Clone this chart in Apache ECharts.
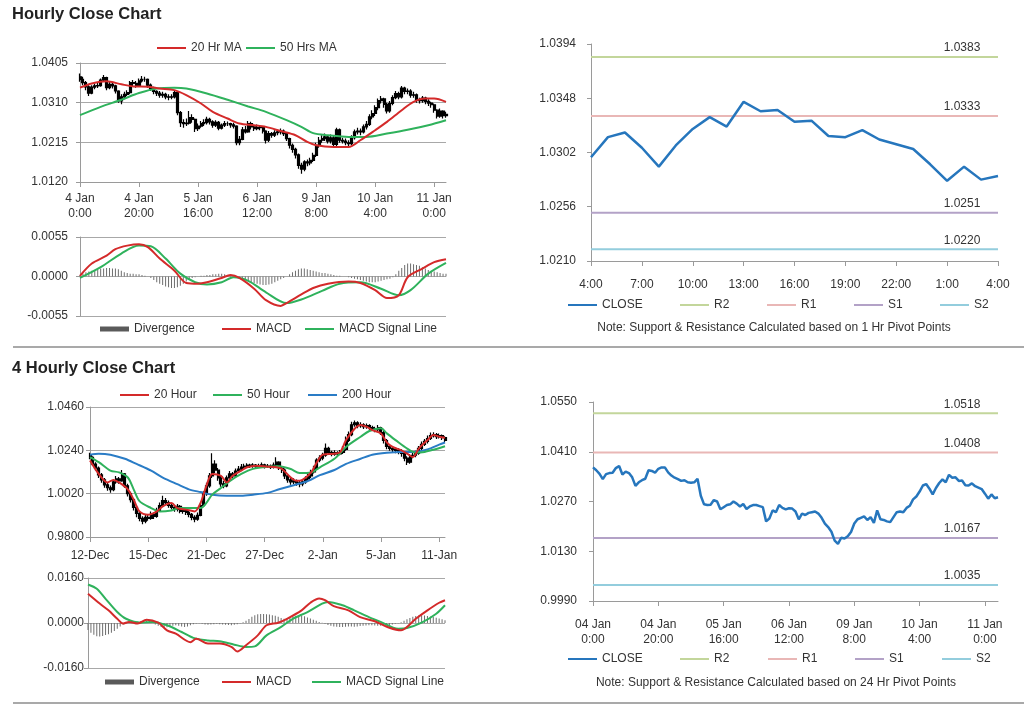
<!DOCTYPE html>
<html>
<head>
<meta charset="utf-8">
<script src="https://cdn.jsdelivr.net/npm/echarts@6/dist/echarts.min.js"></script>
<style>html,body{margin:0;padding:0;background:#fff;}#c{width:1024px;height:706px;}</style>
</head>
<body>
<div id="c"></div>
<script>
// ---------- DATA ----------
// Hourly closes, 4 Jan 0:00 .. 11 Jan 4:00 (shared by hourly candles, 1h pivot and 24h pivot charts)
const hourlyCloses = [
 1.0366,1.0358,1.0348,1.0333,1.0347,1.0350,1.0351,1.0364,1.0370,1.0346,
 1.0354,1.0350,1.0338,1.0314,1.0324,1.0330,1.0334,1.0358,1.0356,1.0351,
 1.0362,1.0366,1.0366,1.0352,1.0343,1.0337,1.0333,1.0328,1.0330,1.0324,
 1.0323,1.0324,1.0334,1.0286,1.0262,1.0260,1.0261,1.0274,1.0270,1.0248,
 1.0254,1.0260,1.0262,1.0270,1.0264,1.0256,1.0263,1.0249,1.0256,1.0260,
 1.0260,1.0257,1.0254,1.0214,1.0222,1.0245,1.0240,1.0260,1.0252,1.0248,
 1.0251,1.0250,1.0242,1.0220,1.0236,1.0232,1.0238,1.0240,1.0242,1.0236,
 1.0224,1.0208,1.0198,1.0185,1.0160,1.0151,1.0168,1.0166,1.0172,1.0184,
 1.0208,1.0220,1.0224,1.0228,1.0218,1.0226,1.0210,1.0245,1.0220,1.0218,
 1.0214,1.0212,1.0226,1.0240,1.0242,1.0240,1.0252,1.0258,1.0276,1.0284,
 1.0298,1.0315,1.0319,1.0306,1.0290,1.0308,1.0322,1.0332,1.0324,1.0345,
 1.0337,1.0338,1.0328,1.0329,1.0316,1.0315,1.0321,1.0313,1.0309,1.0305,
 1.0292,1.0278,1.0290,1.0279,1.0282];
const hourlyFirstOpen = 1.0372;
const hourlyHighs = [
 1.0380,1.0372,1.0362,1.0352,1.0352,1.0356,1.0358,1.0368,1.0376,1.0372,
 1.0360,1.0358,1.0353,1.0340,1.0330,1.0336,1.0340,1.0362,1.0364,1.0362,
 1.0368,1.0374,1.0372,1.0368,1.0356,1.0348,1.0340,1.0338,1.0336,1.0334,
 1.0330,1.0330,1.0340,1.0336,1.0290,1.0270,1.0272,1.0290,1.0282,1.0272,
 1.0260,1.0266,1.0270,1.0276,1.0274,1.0268,1.0268,1.0266,1.0260,1.0266,
 1.0265,1.0262,1.0262,1.0256,1.0230,1.0252,1.0254,1.0266,1.0264,1.0256,
 1.0258,1.0256,1.0254,1.0244,1.0242,1.0240,1.0244,1.0246,1.0248,1.0246,
 1.0240,1.0226,1.0212,1.0202,1.0188,1.0166,1.0172,1.0174,1.0178,1.0190,
 1.0214,1.0228,1.0232,1.0236,1.0232,1.0234,1.0230,1.0250,1.0248,1.0226,
 1.0224,1.0220,1.0232,1.0246,1.0250,1.0248,1.0258,1.0266,1.0282,1.0292,
 1.0304,1.0320,1.0326,1.0322,1.0310,1.0314,1.0328,1.0338,1.0336,1.0350,
 1.0348,1.0344,1.0342,1.0336,1.0332,1.0322,1.0326,1.0324,1.0318,1.0312,
 1.0308,1.0294,1.0296,1.0292,1.0288];
const hourlyLows = [
 1.0360,1.0352,1.0340,1.0326,1.0330,1.0342,1.0345,1.0348,1.0360,1.0340,
 1.0342,1.0344,1.0332,1.0310,1.0306,1.0318,1.0326,1.0330,1.0350,1.0346,
 1.0348,1.0358,1.0360,1.0346,1.0338,1.0330,1.0326,1.0322,1.0322,1.0318,
 1.0316,1.0318,1.0320,1.0280,1.0252,1.0250,1.0254,1.0258,1.0262,1.0240,
 1.0242,1.0250,1.0254,1.0258,1.0258,1.0250,1.0252,1.0244,1.0246,1.0252,
 1.0254,1.0250,1.0248,1.0208,1.0208,1.0220,1.0236,1.0238,1.0246,1.0242,
 1.0244,1.0244,1.0236,1.0212,1.0216,1.0226,1.0228,1.0232,1.0234,1.0230,
 1.0218,1.0200,1.0190,1.0176,1.0152,1.0140,1.0146,1.0158,1.0160,1.0168,
 1.0180,1.0202,1.0214,1.0218,1.0212,1.0212,1.0204,1.0206,1.0214,1.0212,
 1.0208,1.0206,1.0208,1.0222,1.0234,1.0232,1.0236,1.0246,1.0254,1.0270,
 1.0278,1.0292,1.0308,1.0298,1.0284,1.0286,1.0304,1.0318,1.0318,1.0320,
 1.0330,1.0330,1.0322,1.0322,1.0310,1.0308,1.0310,1.0306,1.0302,1.0298,
 1.0286,1.0272,1.0274,1.0272,1.0274];
// [bar index, value] samples of moving averages
const hourlyMA20 = [[0,1.0346],[4,1.0356],[9,1.0361],[14,1.0354],[18,1.0349],[23,1.0348],[27,1.0344],[32,1.0340],[36,1.0328],[41,1.0308],[45,1.0288],[50,1.0272],[54,1.0260],[59,1.0256],[63,1.0252],[68,1.0242],[73,1.0232],[77,1.0216],[80,1.0208],[86,1.0204],[91,1.0204],[95,1.0220],[100,1.0244],[104,1.0264],[109,1.0292],[113,1.0312],[117,1.0320],[120,1.0320],[124,1.0312]];
const hourlyMA50 = [[0,1.0280],[7,1.0300],[14,1.0317],[20,1.0333],[26,1.0344],[32,1.0346],[36,1.0344],[43,1.0332],[50,1.0317],[57,1.0301],[63,1.0288],[70,1.0268],[75,1.0252],[79,1.0237],[84,1.0232],[91,1.0228],[97,1.0228],[104,1.0236],[111,1.0245],[118,1.0256],[124,1.0268]];
const hourlyMACD = [[0,0.0001],[4,0.0018],[9,0.0029],[12,0.0038],[16,0.0043],[20,0.0045],[23,0.0041],[27,0.0025],[32,0.0008],[36,-0.0009],[40,-0.0010],[43,-0.0008],[48,-0.0002],[51,0.0002],[54,-0.0002],[59,-0.0017],[63,-0.0033],[68,-0.0041],[70,-0.0037],[75,-0.0025],[79,-0.0016],[84,-0.0010],[91,-0.0007],[95,-0.0009],[100,-0.0019],[104,-0.0030],[108,-0.0026],[111,-0.0001],[116,0.0011],[120,0.0020],[124,0.0024]];
const hourlySignal = [[0,-0.0002],[7,0.0013],[14,0.0032],[20,0.0043],[24,0.0042],[29,0.0025],[34,0.0004],[39,-0.0008],[43,-0.0011],[48,-0.0008],[52,-0.0001],[57,-0.0006],[63,-0.0022],[70,-0.0037],[75,-0.0032],[82,-0.0020],[88,-0.0010],[95,-0.0008],[102,-0.0017],[108,-0.0026],[112,-0.0019],[118,0.0004],[124,0.0019]];
const hourlyDivergence = [
 0.0002,0.0004,0.0006,0.0007,0.0008,0.0009,0.0010,0.0011,0.0011,0.0012,0.0012,0.0011,0.0011,0.0010,0.0008,
 0.0006,0.0005,0.0004,0.0004,0.0003,0.0003,0.0002,0.0001,0.0000,-0.0002,
 -0.0005,-0.0008,-0.0010,-0.0012,-0.0014,-0.0015,-0.0016,-0.0016,-0.0015,-0.0013,-0.0010,-0.0007,
 -0.0004,-0.0002,-0.0001,0.0000,0.0001,0.0001,0.0002,0.0002,0.0003,0.0003,0.0004,0.0004,0.0003,0.0002,
 0.0001,0.0000,-0.0001,-0.0002,-0.0003,-0.0005,-0.0007,
 -0.0008,-0.0009,-0.0010,-0.0011,-0.0012,-0.0012,-0.0011,-0.0010,-0.0008,-0.0006,-0.0004,-0.0002,0.0000,
 0.0003,0.0006,0.0008,0.0010,0.0011,0.0011,0.0010,0.0009,0.0008,0.0007,0.0006,
 0.0005,0.0005,0.0004,0.0003,0.0002,0.0001,0.0001,0.0000,0.0000,-0.0001,
 -0.0002,-0.0003,-0.0004,-0.0005,-0.0006,-0.0007,-0.0008,-0.0008,-0.0008,-0.0007,-0.0006,-0.0005,-0.0004,-0.0003,-0.0001,
 0.0003,0.0008,0.0012,0.0016,0.0018,0.0018,0.0017,0.0016,0.0015,0.0013,0.0011,0.0009,0.0008,0.0007,0.0006,0.0005,0.0004,0.0004];

// 4-hourly bars, 12 Dec .. 11 Jan
const fourHourFirstOpen = 1.0215;
const fourHourCloses = [
 1.0205,1.0170,1.0150,1.0115,1.0090,1.0065,1.0050,1.0040,1.0080,1.0095,
 1.0085,1.0120,1.0060,1.0020,0.9990,0.9950,0.9920,0.9895,0.9880,0.9900,
 0.9895,0.9915,0.9905,0.9935,0.9960,0.9985,0.9975,0.9960,0.9950,0.9940,
 0.9955,0.9930,0.9935,0.9925,0.9915,0.9900,0.9890,0.9910,0.9960,1.0020,
 1.0060,1.0110,1.0170,1.0140,1.0100,1.0070,1.0060,1.0100,1.0120,1.0110,
 1.0135,1.0145,1.0155,1.0160,1.0165,1.0160,1.0165,1.0158,1.0162,1.0166,
 1.0158,1.0160,1.0155,1.0165,1.0180,1.0150,1.0140,1.0110,1.0090,1.0080,
 1.0085,1.0075,1.0070,1.0080,1.0095,1.0110,1.0130,1.0150,1.0190,1.0200,
 1.0215,1.0250,1.0230,1.0220,1.0228,1.0222,1.0230,1.0245,1.0290,1.0320,
 1.0370,1.0380,1.0365,1.0370,1.0360,1.0365,1.0355,1.0350,1.0345,1.0355,
 1.0330,1.0290,1.0260,1.0250,1.0245,1.0240,1.0235,1.0225,1.0200,1.0180,
 1.0210,1.0215,1.0225,1.0250,1.0270,1.0285,1.0300,1.0315,1.0320,1.0310,
 1.0315,1.0305,1.0290];
const fourHourHighs = [
 1.0228,1.0210,1.0180,1.0158,1.0125,1.0100,1.0075,1.0062,1.0092,1.0110,
 1.0105,1.0140,1.0125,1.0070,1.0030,0.9998,0.9960,0.9930,0.9905,0.9915,
 0.9912,0.9930,0.9925,0.9948,0.9975,1.0010,0.9998,0.9985,0.9968,0.9960,
 0.9968,0.9962,0.9948,0.9945,0.9935,0.9922,0.9910,0.9925,0.9972,1.0032,
 1.0075,1.0125,1.0225,1.0190,1.0150,1.0110,1.0085,1.0112,1.0135,1.0130,
 1.0148,1.0160,1.0170,1.0172,1.0175,1.0172,1.0175,1.0170,1.0172,1.0178,
 1.0172,1.0170,1.0168,1.0178,1.0205,1.0185,1.0158,1.0148,1.0120,1.0100,
 1.0098,1.0092,1.0088,1.0092,1.0108,1.0122,1.0142,1.0162,1.0200,1.0215,
 1.0228,1.0275,1.0258,1.0238,1.0240,1.0235,1.0242,1.0262,1.0310,1.0335,
 1.0385,1.0392,1.0388,1.0382,1.0378,1.0376,1.0372,1.0365,1.0360,1.0368,
 1.0360,1.0338,1.0298,1.0268,1.0262,1.0255,1.0250,1.0245,1.0232,1.0210,
 1.0222,1.0228,1.0238,1.0262,1.0285,1.0298,1.0315,1.0330,1.0332,1.0328,
 1.0326,1.0320,1.0312];
const fourHourLows = [
 1.0195,1.0160,1.0138,1.0100,1.0075,1.0050,1.0035,1.0025,1.0032,1.0070,
 1.0070,1.0080,1.0050,1.0005,0.9975,0.9935,0.9900,0.9880,0.9865,0.9870,
 0.9882,0.9888,0.9892,0.9898,0.9928,0.9952,0.9962,0.9948,0.9940,0.9928,
 0.9930,0.9920,0.9918,0.9912,0.9900,0.9885,0.9875,0.9882,0.9905,0.9952,
 1.0010,1.0050,1.0100,1.0125,1.0085,1.0055,1.0048,1.0052,1.0092,1.0098,
 1.0102,1.0128,1.0138,1.0148,1.0152,1.0150,1.0152,1.0148,1.0150,1.0154,
 1.0148,1.0150,1.0145,1.0148,1.0155,1.0140,1.0125,1.0095,1.0075,1.0065,
 1.0068,1.0060,1.0052,1.0058,1.0070,1.0085,1.0100,1.0122,1.0142,1.0180,
 1.0190,1.0208,1.0220,1.0210,1.0212,1.0212,1.0215,1.0222,1.0238,1.0282,
 1.0312,1.0360,1.0352,1.0355,1.0348,1.0350,1.0342,1.0338,1.0332,1.0335,
 1.0318,1.0275,1.0245,1.0238,1.0232,1.0225,1.0220,1.0208,1.0185,1.0165,
 1.0172,1.0200,1.0205,1.0218,1.0240,1.0262,1.0275,1.0292,1.0305,1.0298,
 1.0300,1.0292,1.0280];
const fourHourMA20 = [[0,1.0188],[3,1.0120],[6,1.0077],[8,1.0090],[10,1.0077],[13,1.0042],[15,0.9990],[17,0.9930],[20,0.9913],[23,0.9930],[25,0.9956],[28,0.9973],[30,0.9947],[33,0.9939],[36,0.9930],[38,0.9973],[40,1.0060],[42,1.0120],[45,1.0111],[47,1.0077],[49,1.0111],[52,1.0137],[54,1.0154],[57,1.0162],[61,1.0157],[64,1.0154],[66,1.0145],[69,1.0102],[71,1.0085],[73,1.0090],[76,1.0128],[78,1.0180],[80,1.0218],[84,1.0223],[86,1.0231],[88,1.0292],[91,1.0351],[93,1.0369],[95,1.0360],[97,1.0343],[100,1.0326],[102,1.0280],[104,1.0257],[107,1.0240],[109,1.0223],[111,1.0206],[113,1.0249],[116,1.0292],[118,1.0318],[120,1.0309],[122,1.0304]];
const fourHourMA50 = [[0,1.0206],[3,1.0180],[7,1.0137],[10,1.0128],[13,1.0102],[15,1.0042],[17,0.9982],[21,0.9947],[24,0.9930],[28,0.9935],[31,0.9947],[34,0.9947],[38,0.9947],[40,0.9973],[42,1.0015],[45,1.0049],[48,1.0084],[52,1.0120],[56,1.0146],[61,1.0157],[65,1.0159],[69,1.0145],[72,1.0125],[76,1.0128],[79,1.0154],[84,1.0197],[88,1.0257],[93,1.0309],[96,1.0338],[100,1.0352],[102,1.0326],[105,1.0292],[109,1.0249],[112,1.0228],[115,1.0232],[118,1.0243],[122,1.0261]];
const fourHourMA200 = [[0,1.0218],[3,1.0223],[7,1.0218],[12,1.0197],[16,1.0171],[21,1.0137],[25,1.0102],[30,1.0068],[34,1.0042],[38,1.0028],[42,1.0015],[47,1.0010],[52,1.0010],[56,1.0015],[61,1.0024],[65,1.0042],[70,1.0063],[75,1.0085],[79,1.0114],[84,1.0140],[88,1.0171],[93,1.0197],[97,1.0218],[102,1.0228],[107,1.0232],[111,1.0232],[116,1.0245],[120,1.0269],[122,1.0280]];
const fourHourMACD = [[0,0.0104],[4,0.0069],[7,0.0045],[10,0.0015],[12,-0.0002],[14,0.0004],[17,-0.0002],[20,0.0012],[24,0.0001],[27,-0.0026],[30,-0.0038],[35,-0.0068],[37,-0.0056],[41,-0.0073],[45,-0.0073],[49,-0.0085],[51,-0.0101],[54,-0.0079],[58,-0.0044],[61,-0.0008],[65,0.0001],[68,0.0015],[73,0.0045],[76,0.0072],[79,0.0087],[81,0.0081],[84,0.0060],[89,0.0045],[93,0.0021],[98,0.0006],[103,-0.0017],[107,-0.0026],[112,0.0015],[116,0.0045],[120,0.0072],[122,0.0081]];
const fourHourSignal = [[0,0.0137],[3,0.0122],[6,0.0086],[10,0.0039],[13,0.0015],[18,0.0001],[22,0.0004],[27,-0.0008],[32,-0.0032],[36,-0.0053],[41,-0.0062],[45,-0.0065],[50,-0.0077],[54,-0.0085],[57,-0.0083],[61,-0.0044],[66,-0.0014],[70,0.0015],[75,0.0039],[80,0.0069],[82,0.0075],[87,0.0063],[91,0.0045],[96,0.0021],[100,0.0004],[106,-0.0020],[109,-0.0018],[114,0.0001],[119,0.0033],[122,0.0063]];
const fourHourDivergence = [
 -0.0025,-0.0035,-0.0042,-0.0047,-0.0048,-0.0046,-0.0043,-0.0040,-0.0035,-0.0028,-0.0020,-0.0012,
 -0.0006,-0.0003,-0.0001,0.0002,0.0004,0.0005,0.0006,0.0008,0.0009,0.0008,0.0004,
 -0.0005,-0.0010,-0.0014,-0.0016,-0.0015,-0.0013,-0.0010,-0.0008,-0.0010,-0.0012,-0.0014,-0.0012,-0.0008,
 -0.0004,-0.0002,-0.0001,-0.0003,-0.0005,-0.0006,-0.0005,-0.0004,-0.0003,-0.0004,-0.0005,-0.0006,-0.0007,-0.0008,-0.0006,-0.0004,-0.0001,0.0003,0.0008,0.0014,
 0.0022,0.0028,0.0031,0.0032,0.0032,0.0031,0.0030,0.0028,0.0026,0.0022,0.0018,
 0.0015,0.0016,0.0020,0.0024,0.0026,0.0027,0.0026,0.0024,0.0020,0.0016,0.0012,0.0008,0.0004,0.0001,-0.0003,
 -0.0007,-0.0010,-0.0012,-0.0013,-0.0014,-0.0014,-0.0013,-0.0012,-0.0012,-0.0013,-0.0012,-0.0011,-0.0010,-0.0009,-0.0008,-0.0008,-0.0009,-0.0010,
 -0.0010,-0.0009,-0.0008,-0.0007,-0.0005,-0.0003,-0.0001,0.0003,
 0.0008,0.0013,0.0018,0.0022,0.0025,0.0027,0.0028,0.0027,0.0025,0.0023,0.0021,0.0019,0.0016,0.0013,0.0010];

// Tick labels
const hourlyTickLabels = ['4 Jan\n0:00','4 Jan\n20:00','5 Jan\n16:00','6 Jan\n12:00','9 Jan\n8:00','10 Jan\n4:00','11 Jan\n0:00'];
const pivot24TickLabels = ['04 Jan\n0:00','04 Jan\n20:00','05 Jan\n16:00','06 Jan\n12:00','09 Jan\n8:00','10 Jan\n4:00','11 Jan\n0:00'];
const fourHourTickLabels = ['12-Dec','15-Dec','21-Dec','27-Dec','2-Jan','5-Jan','11-Jan'];
const pivot1TickLabels = ['4:00','7:00','10:00','13:00','16:00','19:00','22:00','1:00','4:00'];
const pivot1Start = 100; // last 25 hourly closes

// Pivot levels
const levelNames = ['R2','R1','S1','S2'];
const levels1Hr = [1.0383, 1.0333, 1.0251, 1.0220];
const levels24Hr = [1.0518, 1.0408, 1.0167, 1.0035];

// ---------- BUILD ----------
const FONT = "'Liberation Sans', Arial, Helvetica, sans-serif";
const TXT = '#333';
const RED = '#d42a2a', GREEN = '#2fb25c', BLUE = '#2a7cc6', CLOSEC = '#2676bd';
const levelColors = ['#c3d69b', '#e9b7b6', '#b3a2c7', '#93cddd'];

function cats(n, labels, step) {
  const out = [];
  for (let i = 0; i < n; i++) out.push(i % step === 0 && labels[i / step] !== undefined ? labels[i / step] : '');
  return out;
}
function ohlc(first, closes, lows, highs) {
  return closes.map((c, i) => [i === 0 ? first : closes[i - 1], c, lows[i], highs[i]]);
}
const fmt = v => (Math.abs(v) < 1e-9 ? 0 : v).toFixed(4);

function xCat(gi, data, step, show, margin) {
  return {
    type: 'category', gridIndex: gi, data, boundaryGap: false, show,
    axisLine: { show: true, lineStyle: { color: '#9a9a9a' } },
    axisTick: { show: true, interval: step - 1, length: 5, lineStyle: { color: '#9a9a9a' } },
    axisLabel: { interval: step - 1, color: TXT, fontSize: 12, fontFamily: FONT, lineHeight: 15, margin },
    splitLine: { show: false }
  };
}
function yVal(gi, min, max, interval, split, margin) {
  return {
    type: 'value', gridIndex: gi, min, max, interval, scale: true,
    axisLine: { show: true, lineStyle: { color: '#9a9a9a' } },
    axisTick: { show: true, length: 4, lineStyle: { color: '#9a9a9a' } },
    axisLabel: { formatter: fmt, color: TXT, fontSize: 12, fontFamily: FONT, margin },
    splitLine: { show: split, lineStyle: { color: '#a8a8a8', width: 1 } }
  };
}
function lineS(name, gi, data, color, width) {
  return { type: 'line', name, xAxisIndex: gi, yAxisIndex: gi, data, symbol: 'none', smooth: 0.3,
    lineStyle: { color, width: width || 2 }, itemStyle: { color }, silent: true, z: 3 };
}
function levelS(name, gi, value, color, n) {
  return { type: 'line', name, xAxisIndex: gi, yAxisIndex: gi, symbol: 'circle', symbolSize: 0, showSymbol: true,
    lineStyle: { color, width: 2 }, itemStyle: { color }, silent: true, z: 2,
    data: [[0, value], { value: [n - 1, value],
      label: { show: true, position: 'top', distance: 3, offset: [-36, 0], formatter: fmt(value),
        color: TXT, fontSize: 12, fontFamily: FONT } }] };
}

const nH = hourlyCloses.length, nF = fourHourCloses.length;
const pivot1Closes = hourlyCloses.slice(pivot1Start);
const nP = pivot1Closes.length;

const candleStyle = { color: '#000', color0: '#000', borderColor: '#000', borderColor0: '#000', borderWidth: 1.2 };

const series = [
  // chart 0: hourly candles
  { type: 'candlestick', name: 'Hourly', xAxisIndex: 0, yAxisIndex: 0, barWidth: 2.5, itemStyle: candleStyle, silent: true,
    data: ohlc(hourlyFirstOpen, hourlyCloses, hourlyLows, hourlyHighs) },
  lineS('50 Hrs MA', 0, hourlyMA50, GREEN),
  lineS('20 Hr MA', 0, hourlyMA20, RED),
  // chart 1: hourly MACD
  { type: 'bar', name: 'Divergence', xAxisIndex: 1, yAxisIndex: 1, barWidth: 1, data: hourlyDivergence,
    itemStyle: { color: '#6e6e6e' }, silent: true },
  lineS('MACD Signal Line', 1, hourlySignal, GREEN),
  lineS('MACD', 1, hourlyMACD, RED),
  // chart 2: 4-hourly candles
  { type: 'candlestick', name: '4 Hourly', xAxisIndex: 2, yAxisIndex: 2, barWidth: 2.5, itemStyle: candleStyle, silent: true,
    data: ohlc(fourHourFirstOpen, fourHourCloses, fourHourLows, fourHourHighs) },
  lineS('200 Hour', 2, fourHourMA200, BLUE),
  lineS('50 Hour', 2, fourHourMA50, GREEN),
  lineS('20 Hour', 2, fourHourMA20, RED),
  // chart 3: 4-hourly MACD
  { type: 'bar', name: 'Divergence', xAxisIndex: 3, yAxisIndex: 3, barWidth: 1, data: fourHourDivergence,
    itemStyle: { color: '#6e6e6e' }, silent: true },
  lineS('MACD Signal Line', 3, fourHourSignal, GREEN),
  lineS('MACD', 3, fourHourMACD, RED)
];
// chart 4: 1 hr pivots
levelNames.forEach((nm, k) => series.push(levelS(nm, 4, levels1Hr[k], levelColors[k], nP)));
series.push({ type: 'line', name: 'CLOSE', xAxisIndex: 4, yAxisIndex: 4, data: pivot1Closes, symbol: 'none',
  lineStyle: { color: CLOSEC, width: 2.5 }, itemStyle: { color: CLOSEC }, silent: true, z: 4 });
// chart 5: 24 hr pivots
levelNames.forEach((nm, k) => series.push(levelS(nm, 5, levels24Hr[k], levelColors[k], nH)));
series.push({ type: 'line', name: 'CLOSE', xAxisIndex: 5, yAxisIndex: 5, data: hourlyCloses, symbol: 'none',
  lineStyle: { color: CLOSEC, width: 2.5 }, itemStyle: { color: CLOSEC }, silent: true, z: 4 });

// legends (one per item, placed like the reference)
const legendItems = [
  ['20 Hr MA', 157, 48, 2], ['50 Hrs MA', 246, 48, 2],
  ['Divergence', 100, 329, 5], ['MACD', 222, 329, 2], ['MACD Signal Line', 305, 329, 2],
  ['20 Hour', 120, 395, 2], ['50 Hour', 213, 395, 2], ['200 Hour', 308, 395, 2],
  ['Divergence', 105, 682, 5], ['MACD', 222, 682, 2], ['MACD Signal Line', 312, 682, 2],
  ['CLOSE', 568, 305, 2], ['R2', 680, 305, 2], ['R1', 767, 305, 2], ['S1', 854, 305, 2], ['S2', 940, 305, 2],
  ['CLOSE', 568, 659, 2], ['R2', 680, 659, 2], ['R1', 768, 659, 2], ['S1', 855, 659, 2], ['S2', 942, 659, 2]
];
const legend = legendItems.map(([name, x, cy, h]) => ({
  left: x, top: cy - 7, padding: 0, itemGap: 0, itemWidth: 29, itemHeight: h, selectedMode: false,
  icon: 'rect',
  data: [h > 2 ? { name, itemStyle: { color: '#5a5a5a' } } : { name }],
  textStyle: { color: TXT, fontSize: 12, fontFamily: FONT, lineHeight: 14 }
}));

const TITLE_FONT = "bold 16.5px 'Liberation Sans', Arial, sans-serif";
const option = {
  animation: false,
  backgroundColor: '#fff',
  textStyle: { fontFamily: FONT },
  grid: [
    { left: 80, top: 63, width: 366, height: 119 },
    { left: 80, top: 237, width: 366, height: 79 },
    { left: 90, top: 407, width: 355, height: 130 },
    { left: 88, top: 578, width: 357, height: 90 },
    { left: 591, top: 44, width: 407, height: 217 },
    { left: 593, top: 402, width: 405, height: 199 }
  ],
  xAxis: [
    xCat(0, cats(nH, hourlyTickLabels, 20), 20, true, 9),
    xCat(1, cats(nH, [], 20), 20, false, 8),
    xCat(2, cats(nF, fourHourTickLabels, 20), 20, true, 11),
    xCat(3, cats(nF, [], 20), 20, false, 8),
    xCat(4, cats(nP, pivot1TickLabels, 3), 3, true, 16),
    xCat(5, cats(nH, pivot24TickLabels, 20), 20, true, 16)
  ],
  yAxis: [
    yVal(0, 1.0120, 1.0405, 0.0095, true, 12),
    yVal(1, -0.0055, 0.0055, 0.0055, true, 12),
    yVal(2, 0.9800, 1.0460, 0.0220, true, 6),
    yVal(3, -0.0160, 0.0160, 0.0160, true, 4),
    yVal(4, 1.0210, 1.0394, 0.0046, false, 15),
    yVal(5, 0.9990, 1.0550, 0.0140, false, 16)
  ],
  legend,
  series,
  graphic: [
    { type: 'text', left: 12, top: 6, style: { text: 'Hourly Close Chart', font: TITLE_FONT, fill: '#222' } },
    { type: 'text', left: 12, top: 360, style: { text: '4 Hourly Close Chart', font: TITLE_FONT, fill: '#222' } },
    { type: 'text', x: 774, y: 328, style: { text: 'Note: Support & Resistance Calculated based on 1 Hr Pivot Points', font: "12px 'Liberation Sans', Arial, sans-serif", fill: TXT, textAlign: 'center', textVerticalAlign: 'middle' } },
    { type: 'text', x: 776, y: 683, style: { text: 'Note: Support & Resistance Calculated based on 24 Hr Pivot Points', font: "12px 'Liberation Sans', Arial, sans-serif", fill: TXT, textAlign: 'center', textVerticalAlign: 'middle' } },
    { type: 'line', shape: { x1: 13, y1: 347, x2: 1024, y2: 347 }, style: { stroke: '#a9a9a9', lineWidth: 2 } },
    { type: 'line', shape: { x1: 13, y1: 703, x2: 1024, y2: 703 }, style: { stroke: '#a9a9a9', lineWidth: 2 } }
  ]
};

const chart = echarts.init(document.getElementById('c'), null, { renderer: 'canvas' });
chart.setOption(option);
</script>
</body>
</html>
